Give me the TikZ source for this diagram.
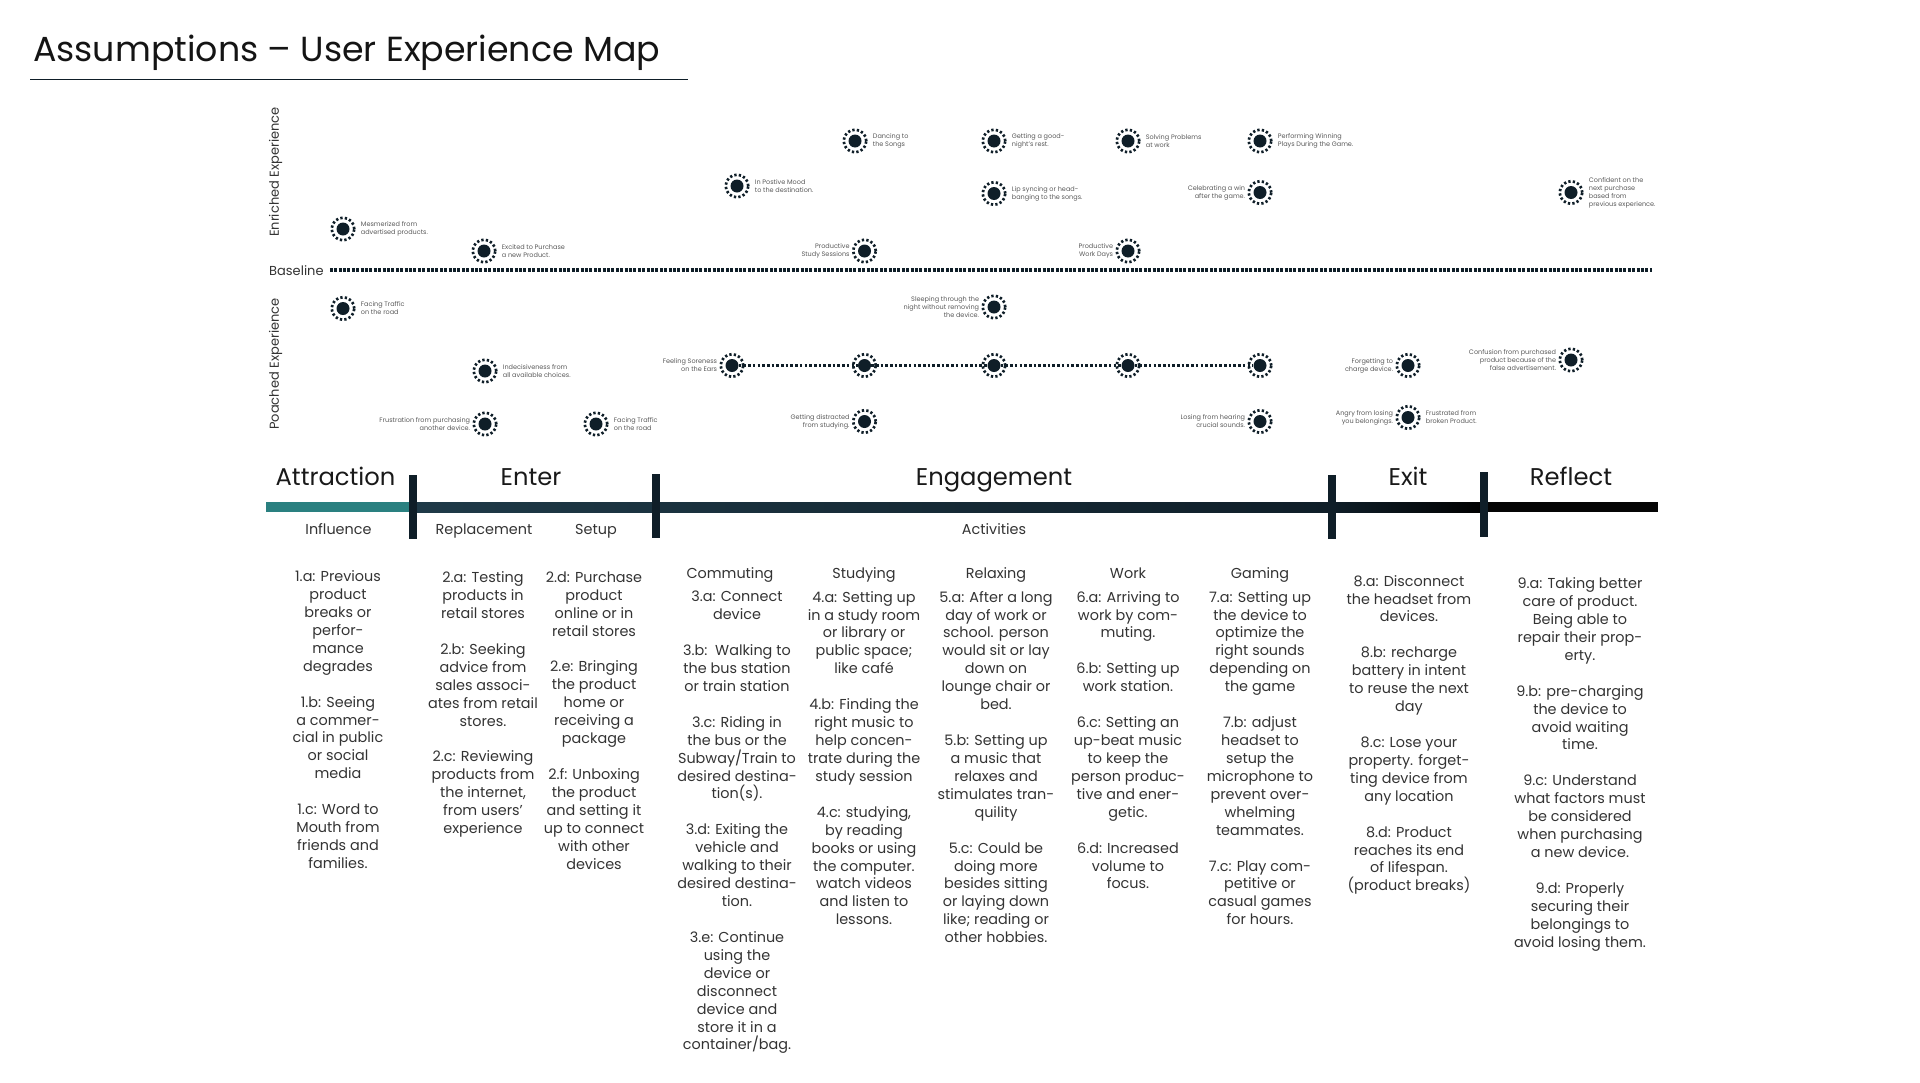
\documentclass[tikz,border=0pt]{standalone}
\usepackage{fontspec}
\setmainfont{Poppins}
\usetikzlibrary{positioning}
\definecolor{inkdark}{HTML}{0F1E28}
\definecolor{barteal}{HTML}{2A8080}
\definecolor{barnavy}{HTML}{1F3A48}
\newcommand{\gapline}{\\[17.93pt]}
\tikzset{
  coredot/.style={circle,fill=inkdark,inner sep=0pt,minimum size=13pt},
  ringdots/.style={inkdark,line width=2.7pt,dash pattern=on 2.3pt off 2.22pt},
  basedots/.style={inkdark,line width=4pt,dash pattern=on 3pt off 1.4pt},
  softdots/.style={inkdark,line width=2.6pt,dash pattern=on 2.6pt off 2.1pt},
  notetext/.style={text=black!65,inner sep=0pt,font=\fontsize{6.5}{8}\selectfont},
  noter/.style={notetext,align=left},
  notel/.style={notetext,align=right},
  phasetext/.style={text=black!90,inner sep=0pt,anchor=base,font=\fontsize{24.2}{28}\selectfont},
  subtext/.style={text=black!80,inner sep=0pt,anchor=base,font=\fontsize{14.4}{18}\selectfont},
  bodytext/.style={text=black!80,inner sep=0pt,anchor=north,align=center,
    font=\fontsize{14.4}{17.93}\selectfont,execute at begin node=\strut},
  tickbar/.style={inkdark,line width=7.4pt},
}
\begin{document}
\begin{tikzpicture}[x=1pt,y=-1pt]
\useasboundingbox (0,0) rectangle (1920,1082);
% title
\node[inner sep=0pt,anchor=west,text=black!92,font=\fontsize{34.8}{40}\selectfont] (maptitle) at (33,53) {Assumptions -- User Experience Map};
\coordinate (ruleL) at (30,79.5);
\coordinate (ruleR) at (688,79.5);
\draw[inkdark,line width=1.2pt] (ruleL) -- (ruleR);
% side labels
\node[rotate=90,text=black!80,inner sep=0pt,font=\fontsize{13}{16}\selectfont] (enriched) at (275.5,172) {Enriched Experience};
\node[rotate=90,text=black!80,inner sep=0pt,font=\fontsize{13}{16}\selectfont] (poached) at (275.5,364) {Poached Experience};
% baseline
\node[text=black!80,inner sep=0pt,anchor=west,font=\fontsize{13}{16}\selectfont] (baselab) at (269,270.5) {Baseline};
\coordinate (baseend) at (1652,269.5);
\draw[basedots] (baselab.east |- baseend) ++(6,0) -- (baseend);
% markers with a note on the right
\foreach \nm/\x/\y/\lab in {
  mesmer/343/229/{Mesmerized from\\advertised products.},
  excite/484/251/{Excited to Purchase\\a new Product.},
  posmood/737/186/{In Postive Mood\\to the destination.},
  dance/855/141/{Dancing to\\the Songs},
  goodrest/994/141/{Getting a good-\\night's rest.},
  lipsync/994/193.5/{Lip syncing or head-\\banging to the songs.},
  solving/1128/141/{Solving Problems\\at work},
  winplay/1260/141/{Performing Winning\\Plays During the Game.},
  confident/1571/192.5/{Confident on the\\next purchase\\based from\\previous experience.},
  traffica/343/308.5/{Facing Traffic\\on the road},
  indecise/485/371/{Indecisiveness from\\all available choices.},
  trafficb/596/424/{Facing Traffic\\on the road}}{
  \node[coredot] (\nm) at (\x,\y) {};
  \draw[ringdots] (\nm) circle (11.3pt);
  \node[noter,right=11pt of \nm] (\nm note) {\lab};
}
% markers with a note on the left
\foreach \nm/\x/\y/\lab in {
  prodstudy/864.5/251/{Productive\\Study Sessions},
  prodwork/1128/251/{Productive\\Work Days},
  celebrate/1260/192.5/{Celebrating a win\\after the game.},
  sleeping/994/307/{Sleeping through the\\night without removing\\the device.},
  frustrate/485/424/{Frustration from purchasing\\another device.},
  soreness/732/365.5/{Feeling Soreness\\on the Ears},
  distract/864.5/421.5/{Getting distracted\\from studying.},
  losing/1260/421.5/{Losing from hearing\\crucial sounds.},
  forget/1408/365.5/{Forgetting to\\charge device.},
  angry/1408/417.5/{Angry from losing\\you belongings.},
  confuse/1571/360/{Confusion from purchased\\product because of the\\false advertisement.}}{
  \node[coredot] (\nm) at (\x,\y) {};
  \draw[ringdots] (\nm) circle (11.3pt);
  \node[notel,left=8pt of \nm] (\nm note) {\lab};
}
\node[noter,right=11pt of angry] (brokennote) {Frustrated from\\broken Product.};
% soreness row
\foreach \nm/\x in {sorestudy/864.5,sorerelax/994,sorework/1128,soregame/1260}{
  \node[coredot] (\nm) at (\x,365.5) {};
  \draw[ringdots] (\nm) circle (11.3pt);
}
\draw[softdots] (soreness) -- (sorestudy) -- (sorerelax) -- (sorework) -- (soregame);
% timeline bar
\fill[barteal] (266,502.3) rectangle (413,512.3);
\shade[left color=barnavy,right color=inkdark] (413,502.3) rectangle (1332,512.3);
\shade[left color=inkdark,right color=black] (1332,502.3) rectangle (1484,512.3);
\fill[black!98] (1484,502.3) rectangle (1658,512.3);
\foreach \nm/\x/\t/\b in {tickA/413/475/539,tickB/656/474/538,tickC/1332/475/539,tickD/1484/472/537}{
  \coordinate (\nm top) at (\x,\t);
  \coordinate (\nm bot) at (\x,\b);
  \draw[tickbar] (\nm top) -- (\nm bot);
}
% phases
\foreach \nm/\x/\lab in {attract/335.5/Attraction,enter/531/Enter,engage/994/Engagement,exitp/1408/Exit,reflect/1571/Reflect}{
  \node[phasetext] (\nm) at (\x,485) {\lab};
}
% sub headings
\foreach \nm/\x/\y/\lab in {influence/338.5/534/Influence,replace/484/534/Replacement,setup/596/534/Setup,activity/994/534/Activities,
  commute/730/578/Commuting,study/864/578/Studying,relax/996/578/Relaxing,workh/1128/578/Work,gaming/1260/578/Gaming}{
  \node[subtext] (\nm) at (\x,\y) {\lab};
}
% step columns
\node[bodytext] (colA) at (338,570.4) {1.a: Previous\\product\\breaks or\\perfor-\\mance\\degrades\gapline
1.b: Seeing\\a commer-\\cial in public\\or social\\media\gapline
1.c: Word to\\Mouth from\\friends and\\families.};
\node[bodytext] (colB) at (483,571.4) {2.a: Testing\\products in\\retail stores\gapline
2.b: Seeking\\advice from\\sales associ-\\ates from retail\\stores.\gapline
2.c: Reviewing\\products from\\the internet,\\from users'\\experience};
\node[bodytext] (colC) at (594,571.4) {2.d: Purchase\\product\\online or in\\retail stores\gapline
2.e: Bringing\\the product\\home or\\receiving a\\package\gapline
2.f: Unboxing\\the product\\and setting it\\up to connect\\with other\\devices};
\node[bodytext] (colD) at (737,590.9) {3.a: Connect\\device\gapline
3.b:\ \ Walking to\\the bus station\\or train station\gapline
3.c: Riding in\\the bus or the\\Subway/Train to\\desired destina-\\tion(s).\gapline
3.d: Exiting the\\vehicle and\\walking to their\\desired destina-\\tion.\gapline
3.e: Continue\\using the\\device or\\disconnect\\device and\\store it in a\\container/bag.};
\node[bodytext] (colE) at (864,590.9) {4.a: Setting up\\in a study room\\or library or\\public space;\\like café\gapline
4.b: Finding the\\right music to\\help concen-\\trate during the\\study session\gapline
4.c: studying,\\by reading\\books or using\\the computer.\\watch videos\\and listen to\\lessons.};
\node[bodytext] (colF) at (996,590.9) {5.a: After a long\\day of work or\\school. person\\would sit or lay\\down on\\lounge chair or\\bed.\gapline
5.b: Setting up\\a music that\\relaxes and\\stimulates tran-\\quility\gapline
5.c: Could be\\doing more\\besides sitting\\or laying down\\like; reading or\\other hobbies.};
\node[bodytext] (colG) at (1128,590.9) {6.a: Arriving to\\work by com-\\muting.\gapline
6.b: Setting up\\work station.\gapline
6.c: Setting an\\up-beat music\\to keep the\\person produc-\\tive and ener-\\getic.\gapline
6.d: Increased\\volume to\\focus.};
\node[bodytext] (colH) at (1260,590.9) {7.a: Setting up\\the device to\\optimize the\\right sounds\\depending on\\the game\gapline
7.b: adjust\\headset to\\setup the\\microphone to\\prevent over-\\whelming\\teammates.\gapline
7.c: Play com-\\petitive or\\casual games\\for hours.};
\node[bodytext] (colI) at (1409,574.9) {8.a: Disconnect\\the headset from\\devices.\gapline
8.b: recharge\\battery in intent\\to reuse the next\\day\gapline
8.c: Lose your\\property. forget-\\ting device from\\any location\gapline
8.d: Product\\reaches its end\\of lifespan.\\(product breaks)};
\node[bodytext] (colJ) at (1580,577.4) {9.a: Taking better\\care of product.\\Being able to\\repair their prop-\\erty.\gapline
9.b: pre-charging\\the device to\\avoid waiting\\time.\gapline
9.c: Understand\\what factors must\\be considered\\when purchasing\\a new device.\gapline
9.d: Properly\\securing their\\belongings to\\avoid losing them.};
\end{tikzpicture}
\end{document}
